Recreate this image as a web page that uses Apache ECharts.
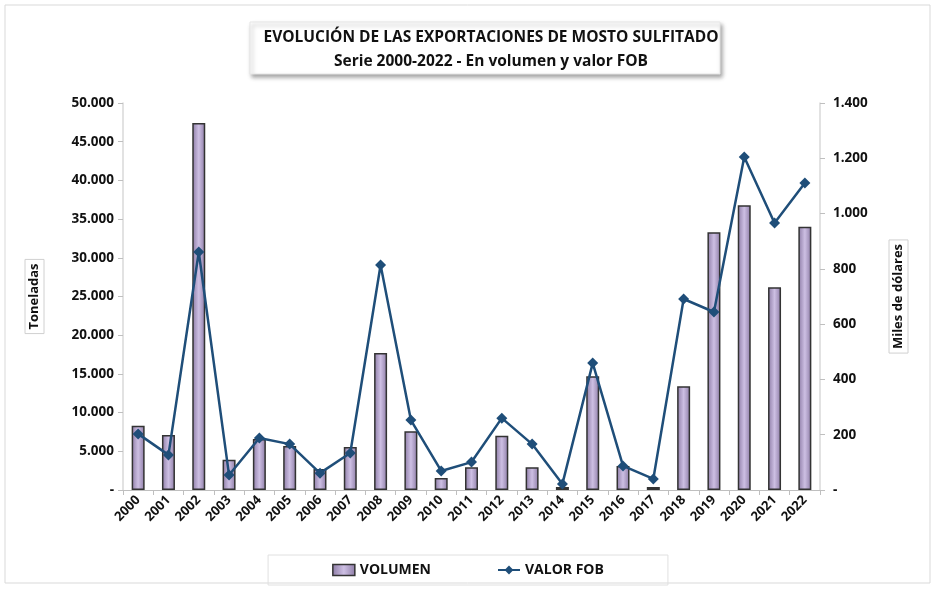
<!DOCTYPE html>
<html>
<head>
<meta charset="utf-8">
<script src="https://cdn.jsdelivr.net/npm/echarts@6/dist/echarts.min.js"></script>
<style>
  html, body { margin: 0; padding: 0; background: #fff; }
  #main { width: 936px; height: 589px; }
</style>
</head>
<body>
<div id="main"></div>
<script>
// datos
var years = ['2000','2001','2002','2003','2004','2005','2006','2007','2008','2009','2010',
    '2011','2012','2013','2014','2015','2016','2017','2018','2019','2020','2021','2022'];
var volumen = [8300,7100,47400,3900,6600,5700,2700,5550,17700,7600,1550,
    2950,7000,2950,400,14700,3100,400,13400,33300,36800,26200,34000];
var valorFob = [203,127,861,54,188,166,61,134,814,253,69,
    101,260,166,22,459,87,40,691,644,1205,966,1111];

function miles(v)
{
    if (v === 0) return '-';
    return String(v).replace(/\B(?=(\d{3})+(?!\d))/g, '.');
}

var font = '"Open Sans", "DejaVu Sans", sans-serif';
var myChart = echarts.init(document.getElementById('main'));

var barFill = new echarts.graphic.LinearGradient(0, 0, 1, 0, [
    {offset: 0, color: '#8d7ca6'},
    {offset: 0.5, color: '#cdbfe3'},
    {offset: 1, color: '#8d7ca6'}
]);

var titleStyle = {fontFamily: font, fontSize: 15.5, fontWeight: 'bold', color: '#111'};

option = {
    backgroundColor: '#fff',
    animation: false,
    textStyle: {fontFamily: font},
    graphic: [
        {type: 'rect', shape: {x: 5, y: 5, width: 925, height: 578},
            style: {fill: 'none', stroke: '#d9d9d9', lineWidth: 1}, silent: true},
        {type: 'rect', shape: {x: 250, y: 22, width: 470, height: 52},
            style: {fill: '#fff', stroke: '#e6e6e6', lineWidth: 1,
                shadowBlur: 4, shadowOffsetX: 2, shadowOffsetY: 3, shadowColor: 'rgba(0,0,0,0.35)'},
            silent: true, z: 0}
    ],
    title: [
        {text: 'EVOLUCIÓN DE LAS EXPORTACIONES DE MOSTO SULFITADO', left: 486, textAlign: 'center', top: 25, textStyle: titleStyle},
        {text: 'Serie 2000-2022 - En volumen y valor FOB', left: 486, textAlign: 'center', top: 49, textStyle: titleStyle}
    ],
    legend: {
        bottom: 4,
        left: 'center',
        padding: [8, 64],
        itemGap: 66,
        itemWidth: 22,
        itemHeight: 11,
        borderColor: '#e0e0e0',
        borderWidth: 1,
        textStyle: {fontFamily: font, fontSize: 14, fontWeight: 'bold', color: '#111'},
        data: [
            {name: 'VOLUMEN', icon: 'rect', itemStyle: {borderColor: '#333', borderWidth: 1.5}},
            {name: 'VALOR FOB', itemStyle: {}}
        ]
    },
    grid: {left: 123, right: 116, top: 103, bottom: 99},
    xAxis: {
        type: 'category',
        data: years,
        axisLine: {lineStyle: {color: '#bfbfbf'}},
        axisTick: {show: true, length: 5, lineStyle: {color: '#bfbfbf'}},
        axisLabel: {rotate: 45, color: '#111', fontWeight: 'bold', fontSize: 13, margin: 8, interval: 0}
    },
    yAxis: [
        {
            type: 'value',
            min: 0, max: 50000, interval: 5000,
            name: 'Toneladas',
            nameLocation: 'middle',
            nameRotate: 90,
            nameGap: 79,
            nameTextStyle: {fontSize: 13, fontWeight: 'bold', color: '#111',
                borderColor: '#d0d0d0', borderWidth: 1, padding: [3, 4]},
            splitLine: {show: false},
            axisLine: {show: true, lineStyle: {color: '#d9d9d9', width: 1.5}},
            axisTick: {show: true, length: 5, lineStyle: {color: '#bfbfbf'}},
            axisLabel: {color: '#111', fontWeight: 'bold', fontSize: 13.5, margin: 9, formatter: miles}
        },
        {
            type: 'value',
            min: 0, max: 1400, interval: 200,
            name: 'Miles de dólares',
            nameLocation: 'middle',
            nameRotate: 90,
            nameGap: 69,
            nameTextStyle: {fontSize: 13, fontWeight: 'bold', color: '#111',
                borderColor: '#d0d0d0', borderWidth: 1, padding: [3, 4]},
            splitLine: {show: false},
            axisLine: {show: true, lineStyle: {color: '#d9d9d9', width: 1.5}},
            axisTick: {show: true, length: 5, lineStyle: {color: '#bfbfbf'}},
            axisLabel: {color: '#111', fontWeight: 'bold', fontSize: 13.5, margin: 13, formatter: miles}
        }
    ],
    series: [
        {
            name: 'VOLUMEN',
            type: 'bar',
            yAxisIndex: 0,
            barWidth: 13,
            data: volumen,
            itemStyle: {color: barFill, borderColor: '#333', borderWidth: 1.5}
        },
        {
            name: 'VALOR FOB',
            type: 'line',
            yAxisIndex: 1,
            data: valorFob,
            symbol: 'diamond',
            symbolSize: 11,
            lineStyle: {color: '#1f4e79', width: 2.5},
            itemStyle: {color: '#1f4e79'},
            z: 5
        }
    ]
};
myChart.setOption(option);
</script>
</body>
</html>
